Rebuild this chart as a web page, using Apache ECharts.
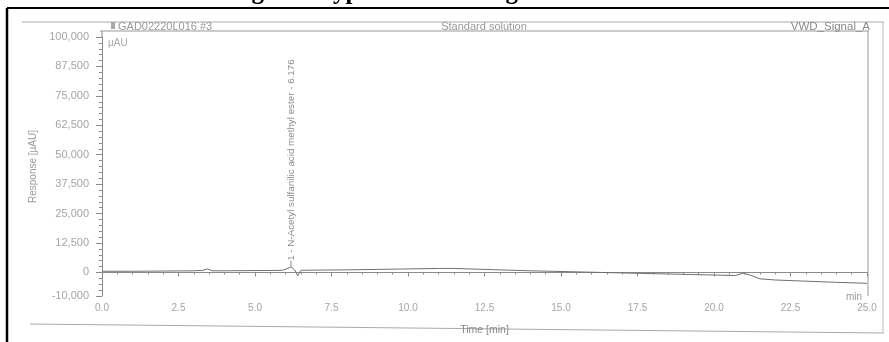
<!DOCTYPE html>
<html>
<head>
<meta charset="utf-8">
<script src="https://cdn.jsdelivr.net/npm/echarts@6/dist/echarts.min.js"></script>
<style>
  html, body { margin: 0; padding: 0; background: #fff; }
  #chart { width: 889px; height: 342px; }
</style>
</head>
<body>
<div id="chart"></div>
<script>
// trace (time in min, response in µAU)
const timeMin = [0, 1, 2, 3, 3.3, 3.45, 3.6, 4, 5, 5.9, 6.05, 6.176, 6.3, 6.4, 6.5, 7, 8, 9, 10, 11, 11.5, 12, 13, 14, 15, 16, 17, 18, 19, 20, 20.7, 20.95, 21.2, 21.5, 22, 23, 24, 25]
const response = [500, 500, 600, 700, 900, 1500, 700, 700, 800, 900, 1600, 2400, 1000, -1400, 900, 1000, 1100, 1300, 1500, 1700, 1700, 1500, 1100, 700, 400, 100, -200, -500, -800, -1100, -1300, -300, -1200, -2700, -3200, -3700, -4200, -4600]
const yMajorTicks = [-10000, 0, 12500, 25000, 37500, 50000, 62500, 75000, 87500, 100000]
const peakTime = 6.176
const peakValue = 2400
const peakName = '1 - N-Acetyl sulfanilic acid methyl ester - 6.176'

const gray = '#8a8a8a'
const font = 'Liberation Sans'

const chart = echarts.init(document.getElementById('chart'))

const option = {
  backgroundColor: '#fff',
  animation: false,
  grid: { left: 102, right: 22, top: 37, bottom: 46 },
  xAxis: {
    type: 'value',
    min: 0,
    max: 25,
    interval: 2.5,
    name: 'Time [min]',
    nameLocation: 'middle',
    nameGap: 29,
    nameTextStyle: { color: '#888', fontFamily: font, fontSize: 10.5 },
    axisLine: { lineStyle: { color: gray } },
    axisTick: { length: 4, lineStyle: { color: gray } },
    minorTick: { show: true, splitNumber: 5, length: 2, lineStyle: { color: gray } },
    axisLabel: {
      color: '#a5a5a5',
      fontFamily: font,
      fontSize: 10,
      margin: 7,
      formatter: v => v.toFixed(1)
    },
    splitLine: { show: false }
  },
  yAxis: [
    {
      type: 'value',
      min: -10000,
      max: 100000,
      interval: 2500,
      position: 'left',
      name: 'Response [µAU]',
      nameLocation: 'middle',
      nameGap: 57,
      nameTextStyle: { color: '#999', fontFamily: font, fontSize: 10 },
      axisLine: { show: true, lineStyle: { color: gray } },
      axisTick: { show: true, interval: 0, length: 3, lineStyle: { color: gray } },
      axisLabel: {
        interval: 0,
        color: '#a5a5a5',
        fontFamily: font,
        fontSize: 11,
        margin: 13,
        formatter: v => (v === -10000 || v % 12500 === 0) ? v.toLocaleString('en-US') : ''
      },
      splitLine: { show: false }
    },
    {
      type: 'value',
      min: -10000,
      max: 100000,
      position: 'left',
      axisLine: { show: false },
      axisTick: { show: true, customValues: yMajorTicks, length: 6, lineStyle: { color: gray } },
      axisLabel: { show: false },
      splitLine: { show: false }
    }
  ],
  series: [
    {
      type: 'line',
      data: timeMin.map((t, i) => [t, response[i]]),
      showSymbol: false,
      symbol: 'none',
      lineStyle: { color: '#6f6f6f', width: 1 },
      z: 3,
      markPoint: {
        symbol: 'rect',
        symbolSize: [1, 6],
        symbolOffset: [0, -3],
        itemStyle: { color: '#888' },
        label: {
          show: true,
          formatter: peakName,
          rotate: 90,
          position: 'top',
          align: 'left',
          verticalAlign: 'middle',
          distance: 0,
          color: '#8c8c8c',
          fontFamily: font,
          fontSize: 9.8
        },
        data: [{ coord: [peakTime, peakValue] }]
      }
    }
  ],
  graphic: [
    // figure caption, cut off at the top of the crop
    {
      type: 'text', left: 'center', top: -20,
      style: { text: 'Figure 3 typical chromatogram of Blank', fontFamily: 'Liberation Serif', fontWeight: 'bold', fontSize: 25, fill: '#000' }
    },
    { type: 'line', shape: { x1: 7, y1: 8, x2: 889, y2: 8 }, style: { stroke: '#000', lineWidth: 2 } },
    { type: 'line', shape: { x1: 7, y1: 8, x2: 7, y2: 342 }, style: { stroke: '#000', lineWidth: 2.5 } },
    // scanned report frame
    { type: 'line', shape: { x1: 22, y1: 22, x2: 884, y2: 22 }, style: { stroke: '#aaa', lineWidth: 1 } },
    { type: 'line', shape: { x1: 100, y1: 31, x2: 869, y2: 31 }, style: { stroke: '#999', lineWidth: 1 } },
    { type: 'line', shape: { x1: 883, y1: 22, x2: 883, y2: 333 }, style: { stroke: '#bbb', lineWidth: 1 } },
    { type: 'line', shape: { x1: 868, y1: 31, x2: 868, y2: 296 }, style: { stroke: '#999', lineWidth: 1 } },
    { type: 'line', shape: { x1: 102, y1: 31, x2: 102, y2: 37 }, style: { stroke: gray, lineWidth: 1 } },
    { type: 'line', shape: { x1: 30, y1: 324, x2: 884, y2: 333 }, style: { stroke: '#aaa', lineWidth: 1 } },
    // header texts
    { type: 'rect', shape: { x: 111, y: 22, width: 4, height: 7 }, style: { fill: '#aaa' } },
    { type: 'text', x: 118, y: 26.5, style: { text: 'GAD02220L016 #3', fontFamily: font, fontSize: 11, fill: '#999', verticalAlign: 'middle' } },
    { type: 'text', x: 484, y: 26.5, style: { text: 'Standard solution', fontFamily: font, fontSize: 11, fill: '#999', align: 'center', verticalAlign: 'middle' } },
    { type: 'text', x: 870, y: 26.5, style: { text: 'VWD_Signal_A', fontFamily: font, fontSize: 11.5, fill: '#888', align: 'right', verticalAlign: 'middle' } },
    { type: 'text', x: 108, y: 43, style: { text: 'µAU', fontFamily: font, fontSize: 10, fill: '#aaa', verticalAlign: 'middle' } },
    { type: 'text', x: 862, y: 297, style: { text: 'min', fontFamily: font, fontSize: 10, fill: '#999', align: 'right', verticalAlign: 'middle' } }
  ]
}

chart.setOption(option)
</script>
</body>
</html>
